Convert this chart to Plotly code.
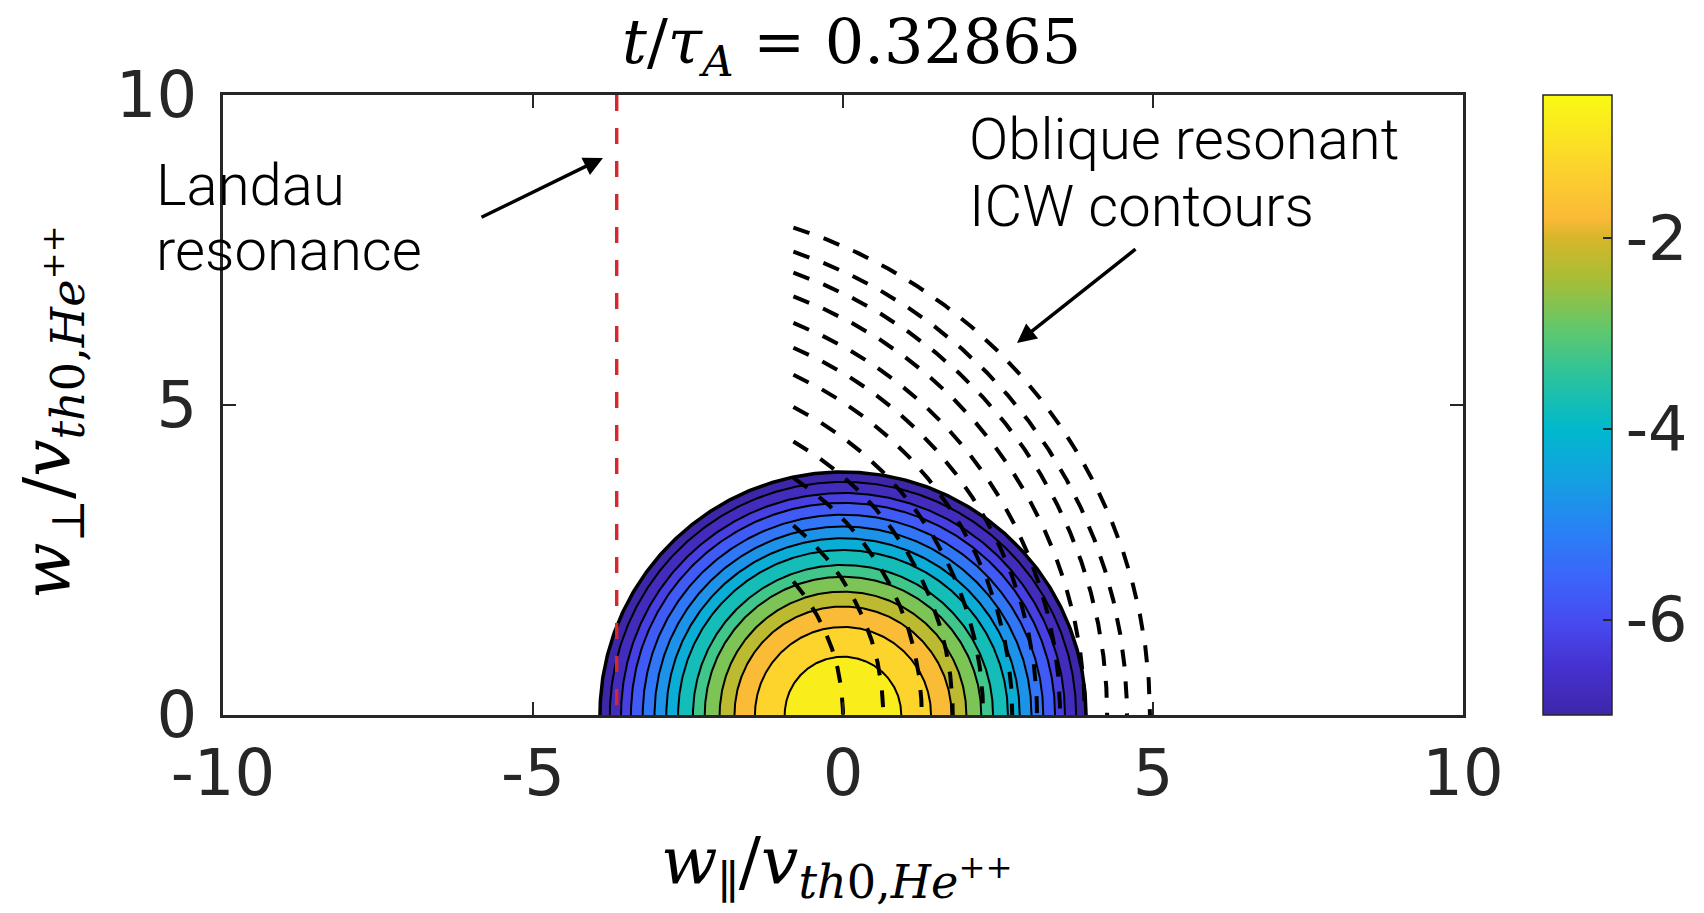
import numpy as np
import plotly.graph_objects as go

# ---------------- data ----------------
time_label = "0.32865"
ring_levels = [-1.0, -1.5, -2.0, -2.5, -3.0, -3.5, -4.0, -4.5, -5.0, -5.5, -6.0, -6.5, -7.0]
ring_radii = [0.94, 1.42, 1.75, 1.99, 2.23, 2.42, 2.66, 2.85, 3.04, 3.23, 3.42, 3.58, 3.76]
band_values = [-0.75, -1.25, -1.75, -2.25, -2.75, -3.25, -3.75, -4.25, -4.75, -5.25, -5.75, -6.25, -6.75, -7.0]
edge_radius = 3.92
cbar_range = [-7.0, -0.5]
cbar_ticks = [-2, -4, -6]
landau_vpar = -3.65
icw_center = -3.3
icw_vpar_start = -0.8
icw_crossings = [0.0, 0.65, 1.27, 1.77, 2.26, 2.73, 3.13, 3.5, 3.9, 4.26, 4.58, 4.95]
x_ticks = [-10, -5, 0, 5, 10]
y_ticks = [0, 5, 10]

# parula-like colour map
cmap_pos = [0.00, 0.08, 0.15, 0.22, 0.30, 0.38, 0.46, 0.55, 0.62, 0.70, 0.77, 0.80, 0.88, 1.00]
cmap_rgb = [(62, 38, 168), (70, 50, 210), (70, 75, 240), (60, 100, 250), (40, 130, 245), (20, 160, 225),
            (0, 185, 205), (45, 195, 155), (95, 200, 110), (165, 190, 55), (215, 182, 42), (250, 185, 55),
            (252, 210, 45), (249, 250, 20)]
colorscale = [[p, "rgb(%d,%d,%d)" % c] for p, c in zip(cmap_pos, cmap_rgb)]

AX = "#262626"

# ---------------- filled contour bands (flat colours like contourf) ----------------
step = 0.012
xs = np.arange(-edge_radius - step, edge_radius + step, step)
ys = np.arange(step / 2, edge_radius + step, step)
XX, YY = np.meshgrid(xs, ys)
RR = np.hypot(XX, YY)
idx = np.searchsorted(np.array(ring_radii), RR)
band = np.array(band_values)[np.minimum(idx, len(band_values) - 1)]
band[RR > edge_radius] = np.nan

fig = go.Figure()
fig.add_trace(go.Heatmap(
    x=xs, y=ys, z=band, zmin=cbar_range[0], zmax=cbar_range[1],
    colorscale=colorscale, zsmooth=False, hoverinfo="skip",
    colorbar=dict(
        x=(1543 - 223) / 1240, xanchor="left", xpad=0, ypad=0,
        y=0.5, yanchor="middle", len=1, lenmode="fraction", thickness=69,
        outlinewidth=1.5, outlinecolor=AX,
        ticks="inside", ticklen=9, tickwidth=2, tickcolor=AX,
        tickvals=cbar_ticks, ticktext=[str(t) for t in cbar_ticks],
        tickfont=dict(family="DejaVu Sans", size=62, color=AX),
    ),
))

# contour lines (semicircles)
theta = np.linspace(0, np.pi, 400)
for r in ring_radii:
    fig.add_trace(go.Scatter(x=r * np.cos(theta), y=r * np.sin(theta), mode="lines",
                             line=dict(color="black", width=2), hoverinfo="skip", showlegend=False))
fig.add_trace(go.Scatter(x=edge_radius * np.cos(theta), y=edge_radius * np.sin(theta), mode="lines",
                         line=dict(color="black", width=3.5), hoverinfo="skip", showlegend=False))

# oblique resonant ICW contours (concentric arcs about icw_center)
for b in icw_crossings:
    R = b - icw_center
    tmax = np.arccos((icw_vpar_start - icw_center) / R)
    th = np.linspace(tmax, 0, 300)
    fig.add_trace(go.Scatter(x=icw_center + R * np.cos(th), y=R * np.sin(th), mode="lines",
                             line=dict(color="black", width=4, dash="17px,15px"),
                             hoverinfo="skip", showlegend=False))

# Landau resonance
fig.add_trace(go.Scatter(x=[landau_vpar, landau_vpar], y=[y_ticks[-1], y_ticks[0]], mode="lines",
                         line=dict(color="#D8262C", width=3.4, dash="16px,17px"),
                         hoverinfo="skip", showlegend=False))

axis_common = dict(showgrid=False, zeroline=False, showline=True, linewidth=3, linecolor=AX,
                   mirror="ticks", ticks="inside", ticklen=13, tickwidth=2, tickcolor=AX,
                   tickfont=dict(family="DejaVu Sans", size=64, color=AX))

fig.update_layout(
    width=1704, height=913,
    margin=dict(l=223, r=241, t=95, b=198, autoexpand=False),
    paper_bgcolor="white", plot_bgcolor="white",
    xaxis=dict(range=[x_ticks[0], x_ticks[-1]], tickvals=x_ticks, ticktext=[str(t) for t in x_ticks], **axis_common),
    yaxis=dict(range=[y_ticks[0], y_ticks[-1]], tickvals=y_ticks, ticktext=[str(t) for t in y_ticks],
               ticklabelstandoff=10, **axis_common),
    showlegend=False,
)

serif_t = dict(family="DejaVu Serif", size=62, color="black")
serif = dict(family="DejaVu Serif", size=66, color="black")
sans = dict(family="Roboto", size=58, color="black", weight=300)


def px(xp):
    return (xp - 223) / 1240


def py(yp):
    return (715 - yp) / 620


ann = [
    dict(text="<i>t</i>/<i>τ</i><sub><i>A</i></sub> = " + time_label, xref="paper", yref="paper",
         x=px(851), y=py(46), xanchor="center", yanchor="middle", showarrow=False, font=serif_t),
    dict(text="<i>w</i><sub>∥</sub>/<i>v</i><sub><i>th</i>0,<i>He</i><sup>++</sup></sub>", xref="paper", yref="paper",
         x=px(837), y=py(866), xanchor="center", yanchor="middle", showarrow=False, font=serif),
    dict(text="<i>w</i><sub>⊥</sub>/<i>v</i><sub><i>th</i>0,<i>He</i><sup>++</sup></sub>", xref="paper", yref="paper",
         x=px(52), y=py(412), xanchor="center", yanchor="middle", textangle=-90,
         showarrow=False, font=serif),
    dict(text="Landau", xref="paper", yref="paper", x=px(154), y=py(206.5 - 58),
         xanchor="left", yanchor="top", showarrow=False, font=sans),
    dict(text="resonance", xref="paper", yref="paper", x=px(154), y=py(271.7 - 58),
         xanchor="left", yanchor="top", showarrow=False, font=sans),
    dict(text="Oblique resonant", xref="paper", yref="paper", x=px(967), y=py(160.8 - 58),
         xanchor="left", yanchor="top", showarrow=False, font=sans),
    dict(text="ICW contours", xref="paper", yref="paper", x=px(967), y=py(228.2 - 58),
         xanchor="left", yanchor="top", showarrow=False, font=sans),
    dict(text="", x=(603 - 843) / 62, y=(715 - 158) / 62, ax=(480 - 843) / 62, ay=(715 - 218) / 62,
         xref="x", yref="y", axref="x", ayref="y", showarrow=True, arrowhead=2, arrowsize=1.1,
         arrowwidth=3.5, arrowcolor="black", standoff=0, startstandoff=0),
    dict(text="", x=(1017 - 843) / 62, y=(715 - 343) / 62, ax=(1137 - 843) / 62, ay=(715 - 248) / 62,
         xref="x", yref="y", axref="x", ayref="y", showarrow=True, arrowhead=2, arrowsize=1.1,
         arrowwidth=3.5, arrowcolor="black", standoff=0, startstandoff=0),
]
fig.update_layout(annotations=ann)

fig.write_html("out.html")
